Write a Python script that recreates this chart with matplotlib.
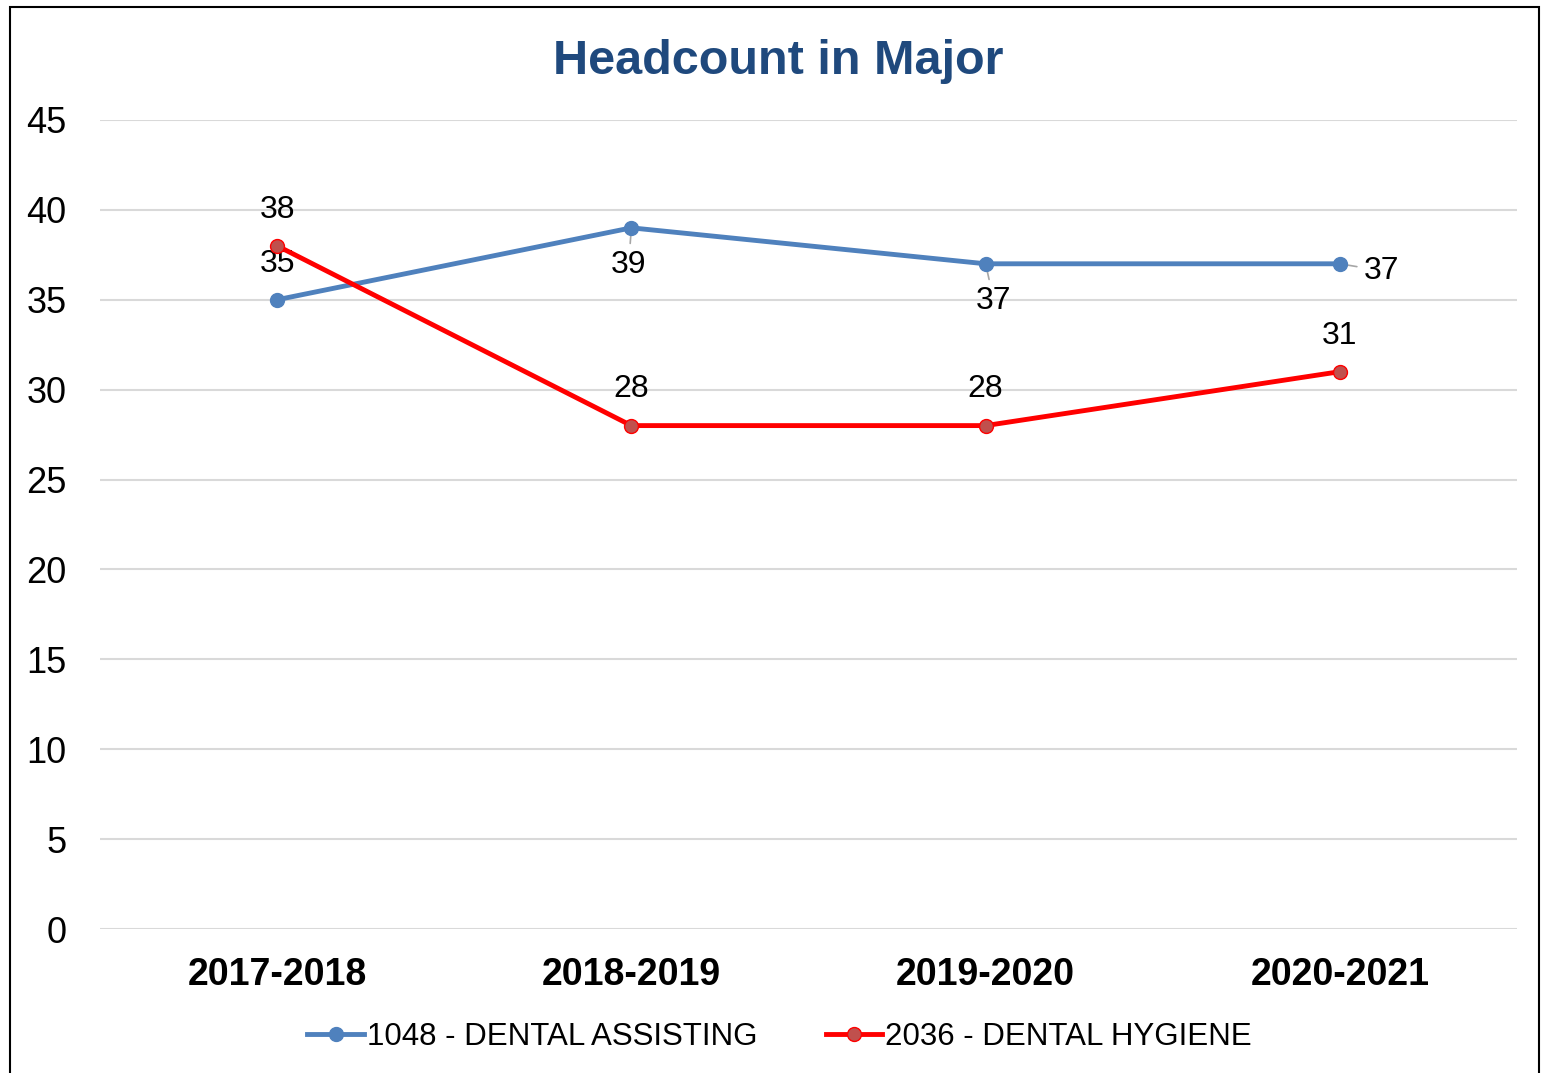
import matplotlib
matplotlib.use("Agg")
import matplotlib.pyplot as plt
from matplotlib.patches import Rectangle

plt.rcParams["font.family"] = ["Liberation Sans", "DejaVu Sans"]

years = ["2017-2018", "2018-2019", "2019-2020", "2020-2021"]
assisting = [35, 39, 37, 37]
hygiene = [38, 28, 28, 31]
name_a = "1048 - DENTAL ASSISTING"
name_h = "2036 - DENTAL HYGIENE"

C_BLUE = "#4F81BD"
C_RED = "#FF0000"
C_RED_FACE = "#C0504D"
C_TITLE = "#1F497D"

fig = plt.figure(figsize=(15.41, 10.73), dpi=100)
ax = fig.add_axes([0.0649, 0.1342, 0.9195, 0.7540])

x = list(range(len(years)))
ax.plot(x, assisting, color=C_BLUE, lw=3.5, marker="o", ms=10,
        mfc=C_BLUE, mec=C_BLUE, label=name_a, zorder=3)
ax.plot(x, hygiene, color=C_RED, lw=3.5, marker="o", ms=10,
        mfc=C_RED_FACE, mec=C_RED, label=name_h, zorder=3)

ax.set_xlim(-0.5, 3.5)
ax.set_ylim(0, 45)
ax.set_yticks(range(0, 46, 5))
ax.set_xticks(x)
ax.set_xticklabels(years, fontsize=27, fontweight="bold")
ax.tick_params(axis="y", labelsize=26, length=0, pad=24)
ax.tick_params(axis="x", length=0, pad=20)
ax.grid(axis="y", color="#D9D9D9", lw=1.5)
ax.set_axisbelow(True)
for s in ax.spines.values():
    s.set_visible(False)

# data labels (offsets in points: dx, dy), with small grey leader lines on some
lab_a = [(0, 26, False), (-2, -27, True), (6, -27, True), (30, -5, True)]
for i, v in enumerate(assisting):
    dx, dy, lead = lab_a[i]
    ax.annotate(str(v), (i, v), xytext=(dx, dy), textcoords="offset points",
                ha="center", va="center", fontsize=23, zorder=2,
                arrowprops=dict(arrowstyle="-", color="#A6A6A6", lw=1.2,
                                shrinkA=3, shrinkB=0) if lead else None)
for i, v in enumerate(hygiene):
    ax.annotate(str(v), (i, v), xytext=(0, 26), textcoords="offset points",
                ha="center", va="center", fontsize=23, zorder=4)

fig.text(0.505, 0.943, "Headcount in Major", ha="center", va="center",
         fontsize=35, fontweight="bold", color=C_TITLE)

fig.legend(loc="center", bbox_to_anchor=(0.506, 0.034), ncol=2, frameon=False,
           fontsize=22.5, handlelength=1.8, handletextpad=0.1, columnspacing=2.2)

fig.patches.append(Rectangle((10 / 1541, -0.01), 1529 / 1541, 1 - 7 / 1073 + 0.01,
                             transform=fig.transFigure, fill=False,
                             edgecolor="black", lw=1.5))

fig.savefig("out.png", dpi=100)
